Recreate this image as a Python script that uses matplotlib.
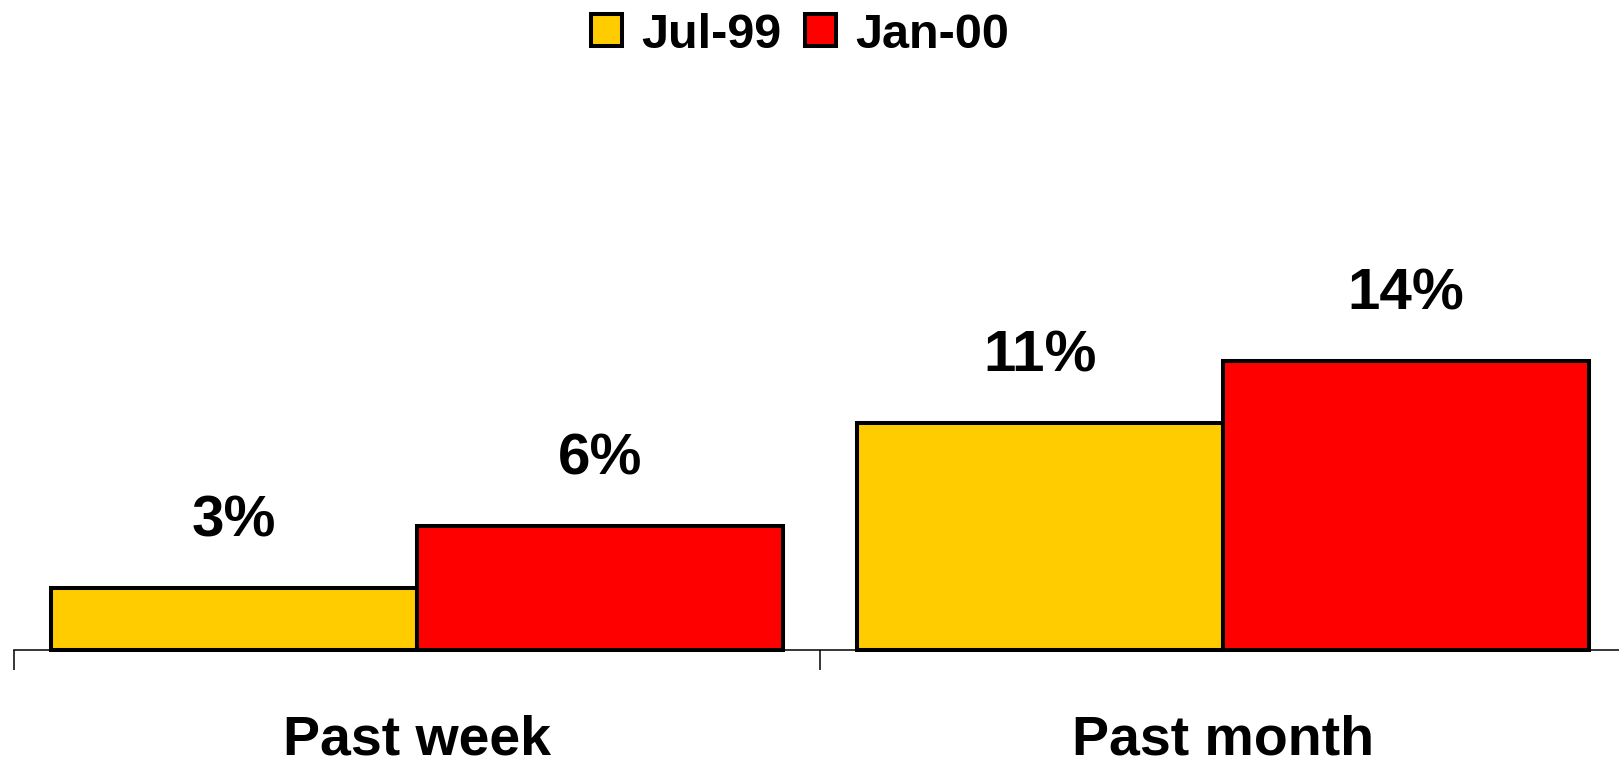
import matplotlib
matplotlib.use("Agg")
import matplotlib.pyplot as plt
import numpy as np

plt.rcParams['font.family'] = ['Liberation Sans', 'DejaVu Sans']
plt.rcParams['font.weight'] = 'bold'

categories = ["Past week", "Past month"]
series_names = ["Jul-99", "Jan-00"]
jul99 = [3, 11]
jan00 = [6, 14]
colors = ['#FFCC00', '#FF0000']

fig = plt.figure(figsize=(16.19, 7.6), dpi=100)
ax = fig.add_axes([14 / 1619, 110.5 / 760, 1612 / 1619, 515 / 760])

x = np.arange(len(categories))
w = 0.454
for i, (vals, name) in enumerate(zip([jul99, jan00], series_names)):
    pos = x + (i - 0.5) * w
    ax.bar(pos, vals, w, color=colors[i], edgecolor='black',
           linewidth=2.9, label=name, zorder=3, clip_on=False)
    # value labels above the bars
    for xp, v in zip(pos, vals):
        ax.annotate(f"{v}%", (xp, v), xytext=(0, 37), textcoords='offset points',
                    ha='center', va='baseline', fontsize=42, fontweight='bold')

ax.set_xlim(-0.5, 1.5)
ax.set_ylim(0, 25)
for s in ['top', 'right', 'left']:
    ax.spines[s].set_visible(False)
ax.spines['bottom'].set_linewidth(1.1)
ax.set_yticks([])

ax.set_xticks(x)
ax.set_xticklabels(categories, fontsize=40, fontweight='bold')
ax.tick_params(axis='x', which='major', length=0, pad=47)
ax.set_xticks([-0.5, 0.5, 1.5], minor=True)
ax.tick_params(axis='x', which='minor', length=14.4, width=1.1, direction='out')

fig.legend(loc='center', bbox_to_anchor=(800 / 1619, 1 - 35 / 760), ncol=2,
           frameon=False, fontsize=35, handlelength=0.64, handleheight=0.64,
           handletextpad=0.39, columnspacing=0.5, borderpad=0)

fig.savefig("out.png", dpi=100)
